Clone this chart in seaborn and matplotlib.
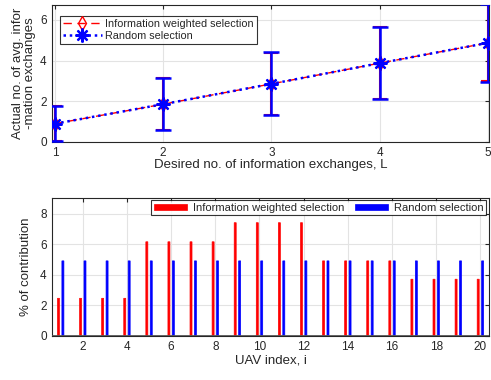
import numpy as np
import pandas as pd
import seaborn as sns
import matplotlib
matplotlib.use("Agg")
import matplotlib.pyplot as plt

# top panel data
L_values = [1, 2, 3, 4, 5]
info_mean = [0.89, 1.85, 2.85, 3.87, 4.87]
info_err = [0.86, 1.28, 1.54, 1.77, 1.90]
rand_mean = [0.89, 1.85, 2.85, 3.87, 4.87]
rand_err = [0.85, 1.27, 1.55, 1.76, 1.92]

# bottom panel data
uav_index = list(range(1, 21))
info_pct = [2.45, 2.45, 2.45, 2.45, 6.15, 6.15, 6.15, 6.15, 7.4, 7.4,
            7.4, 7.4, 4.9, 4.9, 4.9, 4.9, 3.7, 3.7, 3.7, 3.7]
rand_pct = [4.9] * 20

label_info = "Information weighted selection"
label_rand = "Random selection"

sns.set_theme(style="whitegrid")
plt.rcParams['font.family'] = ['Liberation Sans', 'DejaVu Sans']
plt.rcParams['axes.edgecolor'] = '#262626'
plt.rcParams['grid.color'] = '#e3e3e3'
plt.rcParams['grid.linewidth'] = 0.8
text_col = '#262626'

fig = plt.figure(figsize=(4.91, 3.80), dpi=100)
ax1 = fig.add_axes([0.1065, 0.627, 0.889, 0.3605])
ax2 = fig.add_axes([0.1065, 0.1166, 0.889, 0.3616])

# ---- top: avg. information exchanges
df_top = pd.DataFrame({
    'L': L_values * 2,
    'val': info_mean + rand_mean,
    'method': [label_info] * 5 + [label_rand] * 5,
})
ax1.errorbar(L_values, info_mean, yerr=info_err, fmt='none', ecolor='red',
             elinewidth=1.5, capsize=5, capthick=1.5, zorder=2)
ax1.errorbar(L_values, rand_mean, yerr=rand_err, fmt='none', ecolor='blue',
             elinewidth=1.8, capsize=5.5, capthick=1.8, zorder=3)
sns.lineplot(data=df_top[df_top.method == label_info], x='L', y='val', ax=ax1,
             color='red', linestyle=(0, (6, 4)), linewidth=1.0, marker='d',
             markersize=7, markerfacecolor='none', markeredgecolor='red',
             markeredgewidth=1.0, label=label_info, zorder=4)
sns.lineplot(data=df_top[df_top.method == label_rand], x='L', y='val', ax=ax1,
             color='blue', linestyle=(0, (1, 1.5)), linewidth=1.8,
             marker=(8, 2, 0), markersize=10, markeredgecolor='blue',
             markeredgewidth=1.6, label=label_rand, zorder=5)
ax1.set_xlim(0.975, 5.01)
ax1.set_ylim(0, 6.75)
ax1.set_xticks(L_values)
ax1.set_yticks([0, 2, 4, 6])
ax1.set_xlabel("Desired no. of information exchanges, L", fontsize=9.5,
               color=text_col, labelpad=0)
ax1.set_ylabel("Actual no. of avg. infor\n-mation exchanges", fontsize=9.5,
               color=text_col, labelpad=3, linespacing=1.0)
leg1 = ax1.legend(loc='upper left', bbox_to_anchor=(0.017, 0.92), fontsize=7.8,
                  frameon=True, fancybox=False, edgecolor='black',
                  handlelength=3.6, borderpad=0.3, labelspacing=0.2,
                  handletextpad=0.3, borderaxespad=0)
leg1.get_frame().set_linewidth(0.8)

# ---- bottom: % of contribution
df_bot = pd.DataFrame({
    'uav': uav_index * 2,
    'pct': info_pct + rand_pct,
    'method': [label_info] * 20 + [label_rand] * 20,
})
sns.barplot(data=df_bot, x='uav', y='pct', hue='method', ax=ax2,
            native_scale=True, palette=['red', 'blue'], width=0.4, gap=0.55,
            errorbar=None, saturation=1, linewidth=0, zorder=3)
# thin bars: no pixel snapping, so they all come out the same width
for p in ax2.patches:
    p.set_snap(False)
    p.set_edgecolor(p.get_facecolor())
    p.set_linewidth(0.5)
ax2.axhline(0, color='#555555', linewidth=2.0, zorder=4)
ax2.set_xlim(0.62, 20.38)
ax2.set_ylim(0, 9)
ax2.set_xticks(range(2, 21, 2))
ax2.set_yticks([0, 2, 4, 6, 8])
ax2.set_xlabel("UAV index, i", fontsize=9.5, color=text_col, labelpad=1)
ax2.set_ylabel("% of contribution", fontsize=9.5, color=text_col, labelpad=6)
leg2 = ax2.legend(loc='upper right', bbox_to_anchor=(0.993, 0.985), ncol=2,
                  fontsize=8, frameon=True, fancybox=False, edgecolor='black',
                  handlelength=3.0, handleheight=0.45, borderpad=0.2,
                  columnspacing=1.0, handletextpad=0.5, borderaxespad=0)
leg2.get_frame().set_linewidth(0.8)
leg2.set_title(None)

for ax in (ax1, ax2):
    ax.grid(True, zorder=0)
    ax.set_axisbelow(True)
    ax.tick_params(direction='in', length=3, width=0.8, top=True, right=True,
                   labelsize=8.5, colors=text_col, pad=4)
    for s in ax.spines.values():
        s.set_visible(True)
        s.set_linewidth(0.8)
        s.set_color('#262626')

fig.savefig("out.png", dpi=100)
